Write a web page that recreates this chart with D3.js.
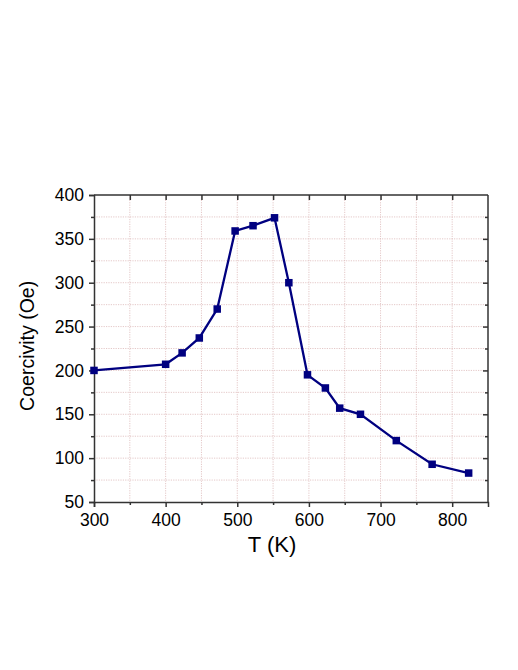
<!DOCTYPE html>
<html>
  <head>
    <meta charset="utf-8">
    <style>
      body {
        margin: 0;
        background: #fff;
        font-family: "Liberation Sans", Arial, sans-serif;
      }
      .grid line {
        stroke: #d8b0b0;
        stroke-width: 0.7;
        stroke-dasharray: 1.2,1.2;
      }
    </style>
  </head>
  <body>
    <script src="https://d3js.org/d3.v7.min.js"></script>
    <script>
      // data
      var temps = [300, 400, 423, 447, 472, 497, 522, 552, 572, 598, 623, 643, 672, 722, 772, 823];
      var coercivity = [200, 207, 220, 237, 270, 359, 365, 374, 300, 195, 180, 157, 150, 120, 93, 83];
      var xTicks = [300, 400, 500, 600, 700, 800];
      var yTicks = [50, 100, 150, 200, 250, 300, 350, 400];

      var width = 518, height = 670;
      var margin = {top: 195, right: 30, bottom: 168, left: 94};
      var w = width - margin.left - margin.right,
          h = height - margin.top - margin.bottom;

      var svg = d3.select("body").append("svg")
          .attr("width", width)
          .attr("height", height)
        .append("g")
          .attr("transform", "translate(" + margin.left + "," + margin.top + ")");

      var x = d3.scaleLinear().domain([300, 850]).range([0, w]);
      var y = d3.scaleLinear().domain([50, 400]).range([h, 0]);

      // grid lines
      svg.append("g").attr("class", "grid")
        .selectAll("line")
        .data(d3.range(350, 850, 50))
        .enter().append("line")
          .attr("x1", function(d) { return x(d); })
          .attr("x2", function(d) { return x(d); })
          .attr("y1", 0).attr("y2", h);
      svg.append("g").attr("class", "grid")
        .selectAll("line")
        .data(d3.range(75, 400, 25))
        .enter().append("line")
          .attr("y1", function(d) { return y(d); })
          .attr("y2", function(d) { return y(d); })
          .attr("x1", 0).attr("x2", w);

      // minor ticks
      var minorX = d3.range(350, 850, 100);
      var minorY = d3.range(75, 400, 50);

      // bottom axis
      svg.append("g")
          .attr("transform", "translate(0," + h + ")")
          .call(d3.axisBottom(x).tickValues(xTicks).tickSize(5).tickPadding(7).tickFormat(d3.format("d")));
      svg.append("g")
          .attr("transform", "translate(0," + h + ")")
          .call(d3.axisBottom(x).tickValues(minorX).tickSize(3).tickFormat(""))
          .select(".domain").remove();

      // left axis
      svg.append("g")
          .call(d3.axisLeft(y).tickValues(yTicks).tickSize(5).tickPadding(5).tickFormat(d3.format("d")));
      svg.append("g")
          .call(d3.axisLeft(y).tickValues(minorY).tickSize(3).tickFormat(""))
          .select(".domain").remove();

      // top axis, ticks inside
      svg.append("g")
          .call(d3.axisTop(x).tickValues(d3.range(350, 850, 50)).tickSize(-5).tickFormat(""))
          .select(".domain").attr("d", "M0,0H" + w);

      // right axis, ticks inside
      svg.append("g")
          .attr("transform", "translate(" + w + ",0)")
          .call(d3.axisRight(y).tickValues(yTicks.slice(1, -1)).tickSize(-5).tickFormat(""))
          .select(".domain").attr("d", "M0,0V" + h);
      svg.append("g")
          .attr("transform", "translate(" + w + ",0)")
          .call(d3.axisRight(y).tickValues(minorY).tickSize(-3).tickFormat(""))
          .select(".domain").remove();

      svg.selectAll(".domain, .tick line")
          .attr("stroke", "#333")
          .attr("stroke-width", 1.5);

      svg.selectAll(".tick text")
          .attr("font-family", "Liberation Sans, Arial, sans-serif")
          .attr("font-size", 17.5)
          .attr("fill", "#000");

      // axis titles
      svg.append("text")
          .attr("x", 178)
          .attr("y", h + 50)
          .attr("text-anchor", "middle")
          .style("font-size", "22px")
          .text("T (K)");

      svg.append("text")
          .attr("transform", "translate(" + (-60) + "," + (y(228)) + ") rotate(-90)")
          .attr("text-anchor", "middle")
          .style("font-size", "19.5px")
          .text("Coercivity (Oe)");

      // line and markers
      var pts = temps.map(function(t, i) { return [t, coercivity[i]]; });

      svg.append("path")
          .datum(pts)
          .attr("fill", "none")
          .attr("stroke", "#000080")
          .attr("stroke-width", 2.3)
          .attr("d", d3.line()
            .x(function(d) { return x(d[0]); })
            .y(function(d) { return y(d[1]); }));

      svg.append("g").selectAll("rect")
          .data(pts)
          .enter().append("rect")
            .attr("x", function(d) { return x(d[0]) - 3.75; })
            .attr("y", function(d) { return y(d[1]) - 3.75; })
            .attr("width", 7.5)
            .attr("height", 7.5)
            .attr("fill", "#000080");
    </script>
  </body>
</html>
